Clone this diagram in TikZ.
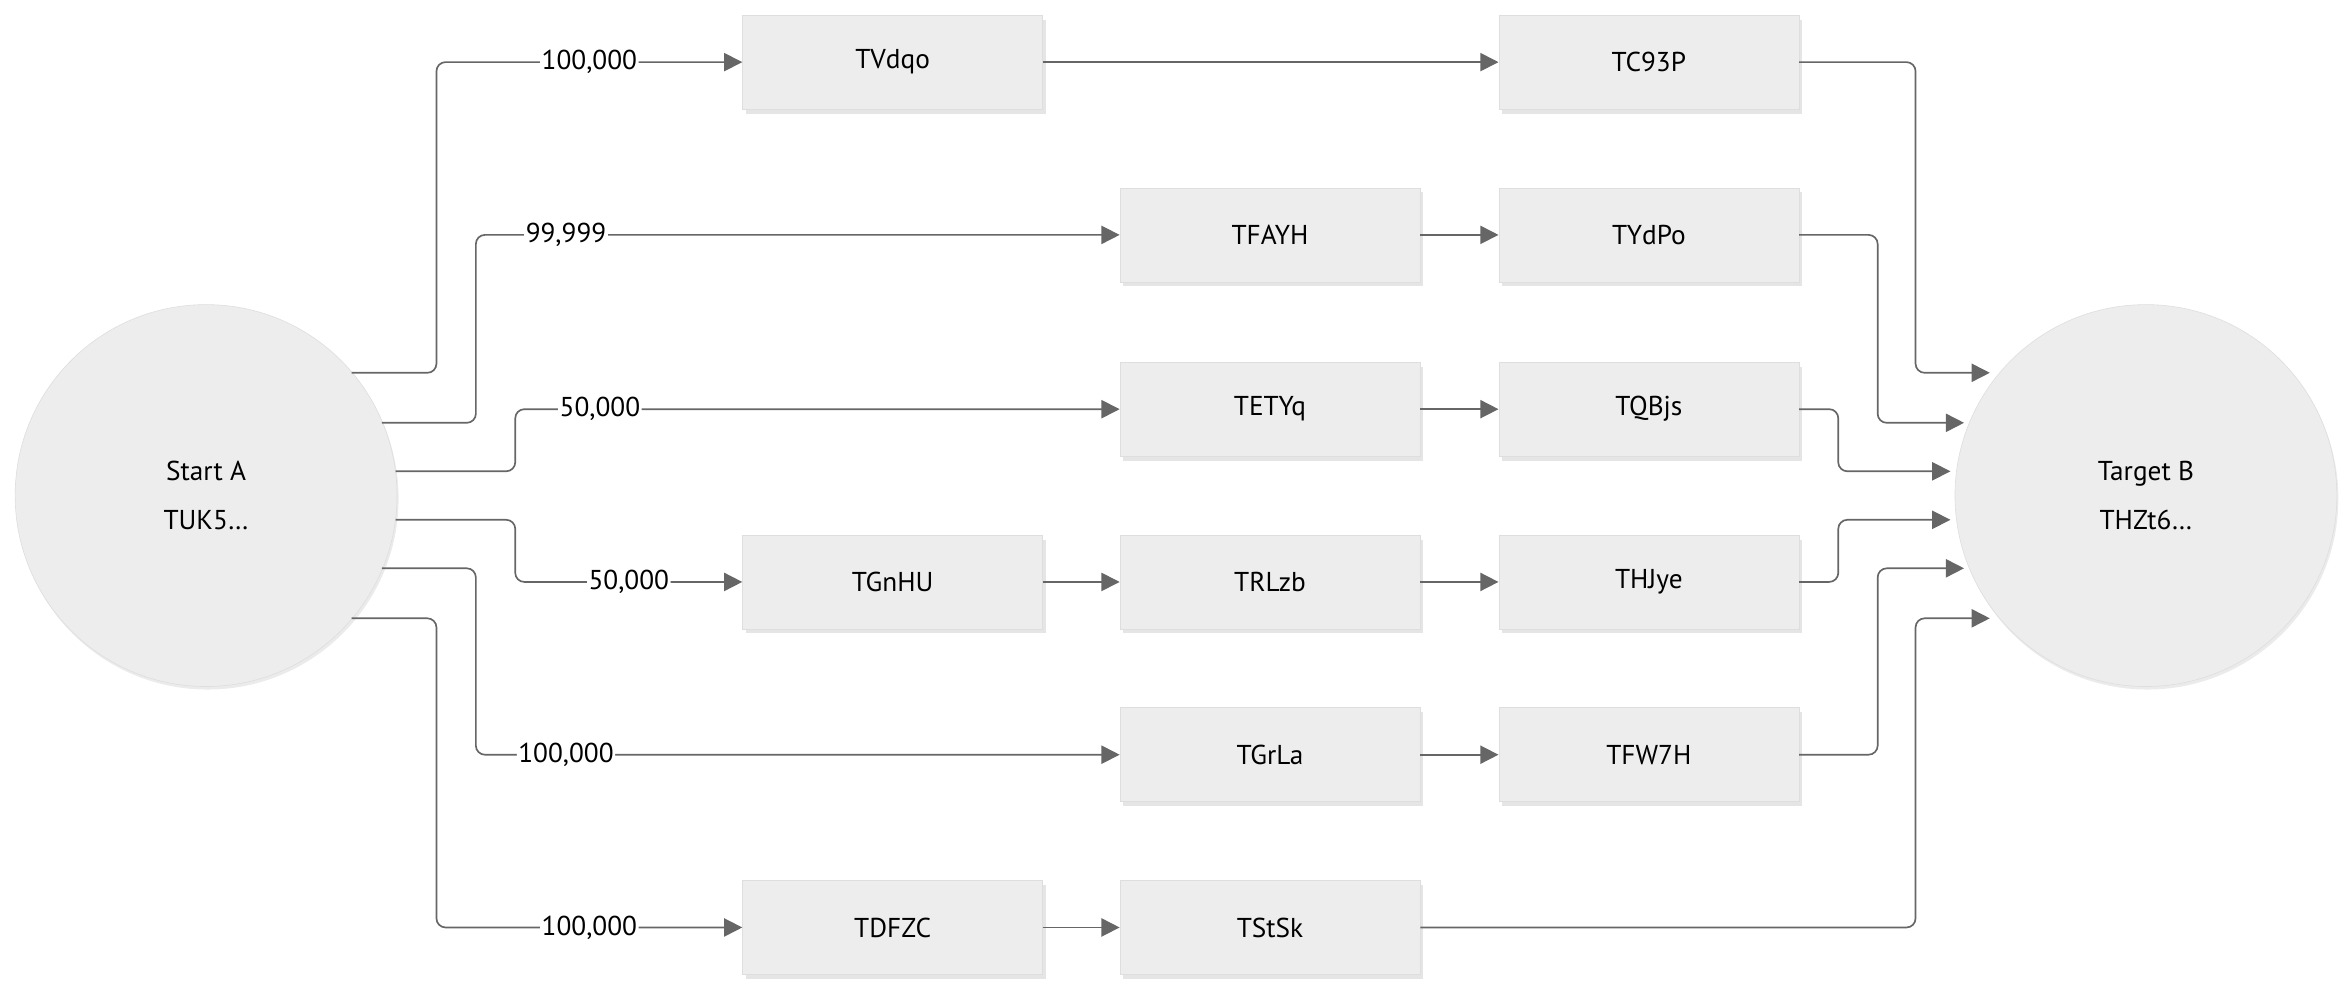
\documentclass[tikz,border=0pt]{standalone}
\usepackage{fontspec}
\setmainfont{PT Sans}
\usetikzlibrary{arrows.meta,shadows}
\begin{document}
\begin{tikzpicture}[x=1pt,y=-1pt,
  box/.style={draw=black!13,fill=black!7,minimum width=198pt,minimum height=62pt,inner sep=0pt,font=\fontsize{18}{20}\selectfont,drop shadow={shadow xshift=2pt,shadow yshift=-3pt,opacity=.25,fill=black!40}},
  circ/.style={circle,draw=black!13,fill=black!7,minimum size=252pt,inner sep=0pt,align=center,font=\fontsize{18}{32}\selectfont,drop shadow={shadow xshift=1pt,shadow yshift=-2pt,opacity=.2,fill=black!40}},
  lab/.style={fill=white,inner sep=1pt,font=\fontsize{18}{20}\selectfont},
  con/.style={draw=black!60,line width=1.1pt,rounded corners=6pt,-{Triangle[length=12pt,width=12pt]}}]
\useasboundingbox (0,0) rectangle (1552,655);
\node[circ] (A) at (136,327) {Start A\\TUK5…};
\node[circ] (B) at (1416,327) {Target B\\THZt6…};
\node[box] (v) at (589,41) {TVdqo};
\node[box] (c93) at (1088,41) {TC93P};
\node[box] (fa) at (838,155) {TFAYH};
\node[box] (yd) at (1088,155) {TYdPo};
\node[box] (et) at (838,270) {TETYq};
\node[box] (qb) at (1088,270) {TQBjs};
\node[box] (gn) at (589,384) {TGnHU};
\node[box] (rl) at (838,384) {TRLzb};
\node[box] (hj) at (1088,384) {THJye};
\node[box] (gr) at (838,498) {TGrLa};
\node[box] (fw) at (1088,498) {TFW7H};
\node[box] (df) at (589,612) {TDFZC};
\node[box] (st) at (838,612) {TStSk};
% exits from A
\coordinate (a1) at (232,246); \coordinate (a2) at (252,279); \coordinate (a3) at (261,311);
\coordinate (a4) at (261,343); \coordinate (a5) at (252,375); \coordinate (a6) at (232,408);
\coordinate (b1) at (1313,246); \coordinate (b2) at (1296,279); \coordinate (b3) at (1287,311);
\coordinate (b4) at (1287,343); \coordinate (b5) at (1296,375); \coordinate (b6) at (1313,408);
\draw[con] (a1) -| (288,120) |- (v.west) node[lab,pos=0.75] {100,000};
\draw[con] (a2) -| (314,200) |- (fa.west) node[lab,pos=0.57] {99,999};
\draw[con] (a3) -| (340,290) |- (et.west) node[lab,pos=0.57] {50,000};
\draw[con] (a4) -| (340,370) |- (gn.west) node[lab,pos=0.75] {50,000};
\draw[con] (a5) -| (314,450) |- (gr.west) node[lab,pos=0.57] {100,000};
\draw[con] (a6) -| (288,550) |- (df.west) node[lab,pos=0.75] {100,000};
\draw[con] (v) -- (c93);
\draw[con] (fa) -- (yd);
\draw[con] (et) -- (qb);
\draw[con] (gn) -- (rl);
\draw[con] (rl) -- (hj);
\draw[con] (gr) -- (fw);
\draw[con] (df) -- (st);
\draw[con] (c93.east) -| (1264,150) |- (b1);
\draw[con] (yd.east) -| (1239,200) |- (b2);
\draw[con] (qb.east) -| (1213,290) |- (b3);
\draw[con] (hj.east) -| (1213,360) |- (b4);
\draw[con] (fw.east) -| (1239,450) |- (b5);
\draw[con] (st.east) -| (1264,500) |- (b6);
\end{tikzpicture}
\end{document}
